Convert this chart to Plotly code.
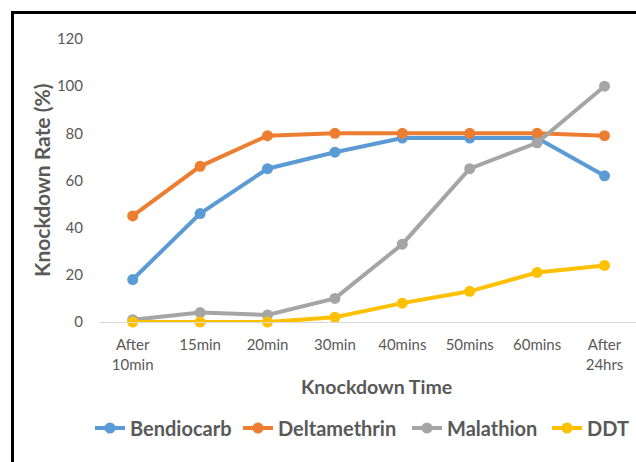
import plotly.graph_objects as go

categories = ["After<br>10min", "15min", "20min", "30min", "40mins", "50mins", "60mins", "After<br>24hrs"]
bendiocarb = [18, 46, 65, 72, 78, 78, 78, 62]
deltamethrin = [45, 66, 79, 80, 80, 80, 80, 79]
malathion = [1, 4, 3, 10, 33, 65, 76, 100]
ddt = [0, 0, 0, 2, 8, 13, 21, 24]
y_ticks = [0, 20, 40, 60, 80, 100, 120]

series = [
    ("Bendiocarb", bendiocarb, "#5B9BD5"),
    ("Deltamethrin", deltamethrin, "#ED7D31"),
    ("Malathion", malathion, "#A5A5A5"),
    ("DDT", ddt, "#FFC000"),
]

# pixel layout helpers
L, R_EDGE, Y0, Y120 = 99, 636, 322, 39
PW = R_EDGE - L
PH = Y0 - Y120
def px(x):
    return (x - L) / PW
def py(y):
    return (Y0 - y) / PH

font_family = "Lato, Carlito, sans-serif"
legend_text_x = [130, 278, 447, 587]
legend_names = ["legend", "legend2", "legend3", "legend4"]

x_idx = list(range(len(categories)))
fig = go.Figure()
for (name, vals, col), lg in zip(series, legend_names):
    fig.add_trace(go.Scatter(
        x=x_idx, y=vals, name=name, mode="lines+markers",
        line=dict(color=col, width=4),
        marker=dict(color=col, size=11),
        cliponaxis=False, legend=lg,
    ))

legend_cfg = {}
for lg, tx in zip(legend_names, legend_text_x):
    legend_cfg[lg] = dict(
        x=px(tx - 40), xanchor="left", y=py(428), yanchor="middle",
        orientation="h", bgcolor="rgba(0,0,0,0)", borderwidth=0,
        font=dict(size=20, color="#595959", family=font_family, weight="bold"),
        itemwidth=30,
    )

fig.update_layout(
    width=636, height=462,
    margin=dict(l=L, r=0, t=Y120, b=462 - Y0),
    paper_bgcolor="white", plot_bgcolor="white",
    font=dict(family=font_family, color="#595959"),
    showlegend=True,
    xaxis=dict(
        range=[-0.5, 7.467], tickmode="array", tickvals=x_idx, ticktext=categories,
        showgrid=False, zeroline=False, showline=True, linecolor="#D9D9D9", linewidth=1,
        ticks="", tickfont=dict(size=15, color="#595959"), ticklabelstandoff=9,
    ),
    yaxis=dict(
        range=[0, 120], tickmode="array", tickvals=y_ticks,
        showgrid=False, zeroline=False, showline=False, ticks="",
        tickfont=dict(size=15, color="#595959"), ticklabelstandoff=15,
    ),
    annotations=[
        dict(text="<b>Knockdown Time</b>", xref="paper", yref="paper",
             x=px(376.5), y=py(386), xanchor="center", yanchor="middle",
             showarrow=False, font=dict(size=19.5, color="#595959")),
        dict(text="<b>Knockdown Rate (%)</b>", xref="paper", yref="paper",
             x=px(41), y=py(181), xanchor="center", yanchor="middle",
             textangle=-90, showarrow=False, font=dict(size=21, color="#595959")),
    ],
    shapes=[
        dict(type="rect", xref="paper", yref="paper",
             x0=px(12.5), x1=px(660), y0=py(480), y1=py(12.5),
             line=dict(color="black", width=3), fillcolor="rgba(0,0,0,0)", layer="above"),
    ],
    **legend_cfg,
)

fig.write_html("out.html",
               config={"displayModeBar": False},
               post_script="document.body.style.margin='0';document.body.style.overflow='hidden';")
